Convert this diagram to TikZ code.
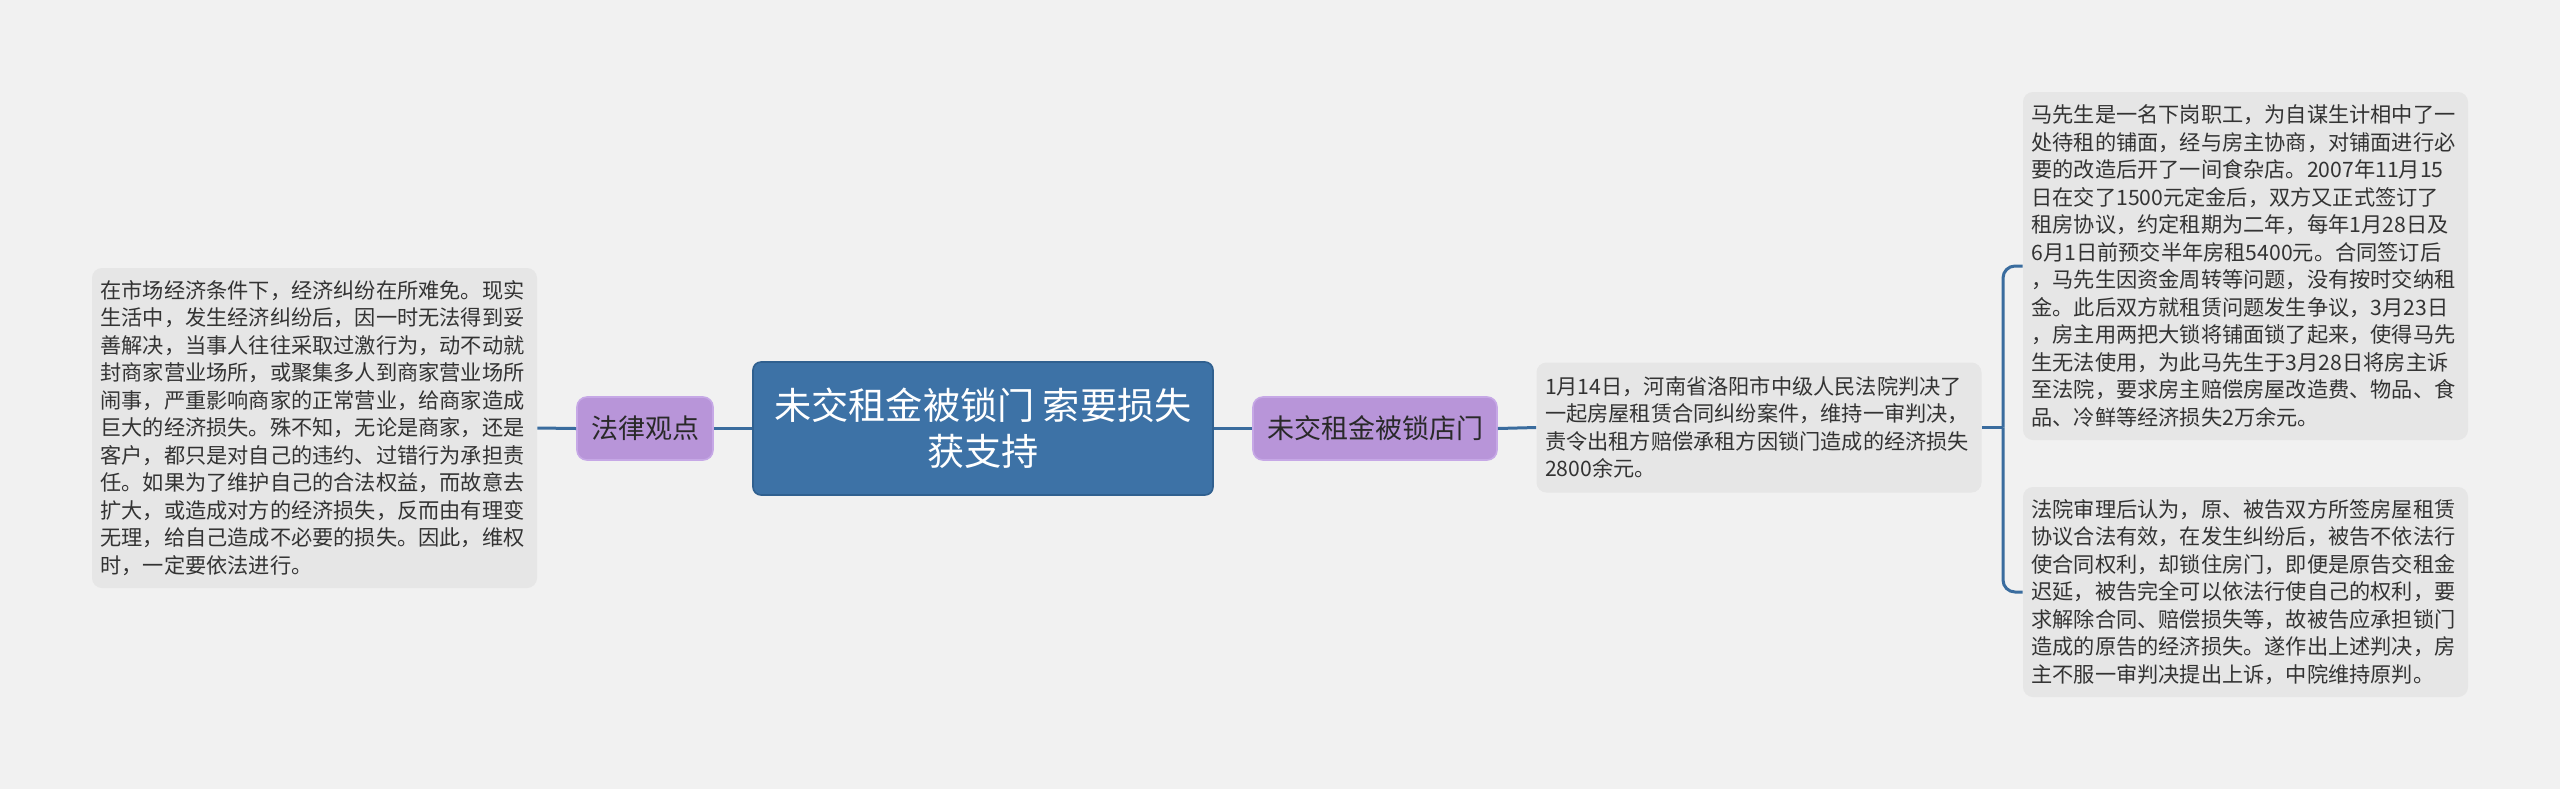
\documentclass[tikz,border=0pt]{standalone}
\usepackage{fontspec}
\setmainfont{Noto Sans CJK SC}
\usetikzlibrary{positioning}
\definecolor{paper}{HTML}{F1F1F1}
\definecolor{ink}{HTML}{333333}
\definecolor{leafgray}{HTML}{E6E6E6}
\definecolor{rootblue}{HTML}{3D72A6}
\definecolor{rootline}{HTML}{30608F}
\definecolor{lilac}{HTML}{B895D9}
\definecolor{lilacline}{HTML}{C6A8E6}
\definecolor{linkblue}{HTML}{3A6C9E}

\begin{document}
\begin{tikzpicture}[
  x=0.5pt, y=-0.5pt,
  root/.style={rectangle, rounded corners=4pt, fill=rootblue, draw=rootline, line width=0.8pt,
    text=white, align=center, font=\fontsize{18.6pt}{23pt}\selectfont,
    minimum width=230pt, minimum height=66.5pt, inner sep=2pt},
  topic/.style={rectangle, rounded corners=5pt, fill=lilac, draw=lilacline, line width=0.8pt,
    text=ink!80!black, font=\fontsize{13.5pt}{16pt}\selectfont,
    minimum height=31.5pt, inner sep=2pt},
  leaf/.style={rectangle, rounded corners=5pt, fill=leafgray, text=ink, align=left,
    font=\fontsize{10.6pt}{13.75pt}\selectfont, text width=214pt, inner xsep=4.25pt, inner ysep=2pt},
  link/.style={draw=linkblue, line width=1.5pt}
]

\useasboundingbox[fill=paper] (0,0) rectangle (2560,789);

% ---------- Hauptthema ----------
\node[root] (root) at (983,428.5) {未交租金被锁门 索要损失\\获支持};

% ---------- Links: Rechtsauffassung ----------
\node[topic, minimum width=68pt] (law) at (645,428.5) {法律观点};
\node[leaf, minimum height=160pt] (lawtext) at (314.5,428) {在市场经济条件下，经济纠纷在所难免。现实\\
生活中，发生经济纠纷后，因一时无法得到妥\\
善解决，当事人往往采取过激行为，动不动就\\
封商家营业场所，或聚集多人到商家营业场所\\
闹事，严重影响商家的正常营业，给商家造成\\
巨大的经济损失。殊不知，无论是商家，还是\\
客户，都只是对自己的违约、过错行为承担责\\
任。如果为了维护自己的合法权益，而故意去\\
扩大，或造成对方的经济损失，反而由有理变\\
无理，给自己造成不必要的损失。因此，维权\\
时，一定要依法进行。};

% ---------- Rechts: Fall ----------
\node[topic, minimum width=122pt] (lock) at (1375,428.5) {未交租金被锁店门};
\node[leaf, minimum height=65pt] (verdict) at (1759,427.5) {1月14日，河南省洛阳市中级人民法院判决了\\
一起房屋租赁合同纠纷案件，维持一审判决，\\
责令出租方赔偿承租方因锁门造成的经济损失\\
2800余元。};

\node[leaf, minimum height=174pt] (story) at (2245.5,266) {马先生是一名下岗职工，为自谋生计相中了一\\
处待租的铺面，经与房主协商，对铺面进行必\\
要的改造后开了一间食杂店。2007年11月15\\
日在交了1500元定金后，双方又正式签订了\\
租房协议，约定租期为二年，每年1月28日及\\
6月1日前预交半年房租5400元。合同签订后\\
，马先生因资金周转等问题，没有按时交纳租\\
金。此后双方就租赁问题发生争议，3月23日\\
，房主用两把大锁将铺面锁了起来，使得马先\\
生无法使用，为此马先生于3月28日将房主诉\\
至法院，要求房主赔偿房屋改造费、物品、食\\
品、冷鲜等经济损失2万余元。};

\node[leaf, minimum height=105pt] (court) at (2245.5,592) {法院审理后认为，原、被告双方所签房屋租赁\\
协议合法有效，在发生纠纷后，被告不依法行\\
使合同权利，却锁住房门，即便是原告交租金\\
迟延，被告完全可以依法行使自己的权利，要\\
求解除合同、赔偿损失等，故被告应承担锁门\\
造成的原告的经济损失。遂作出上述判决，房\\
主不服一审判决提出上诉，中院维持原判。};

% ---------- Verbindungen ----------
\coordinate (fork) at (2003,427.5);
\draw[link] (root.west) -- (law.east);
\draw[link] (law.west) -- (lawtext.east);
\draw[link] (root.east) -- (lock.west);
\draw[link] (lock.east) -- (verdict.west);
\draw[link] (verdict.east) -- (fork);
\draw[link, rounded corners=6pt] (fork) |- (story.west);
\draw[link, rounded corners=6pt] (fork) |- (court.west);

\end{tikzpicture}
\end{document}
